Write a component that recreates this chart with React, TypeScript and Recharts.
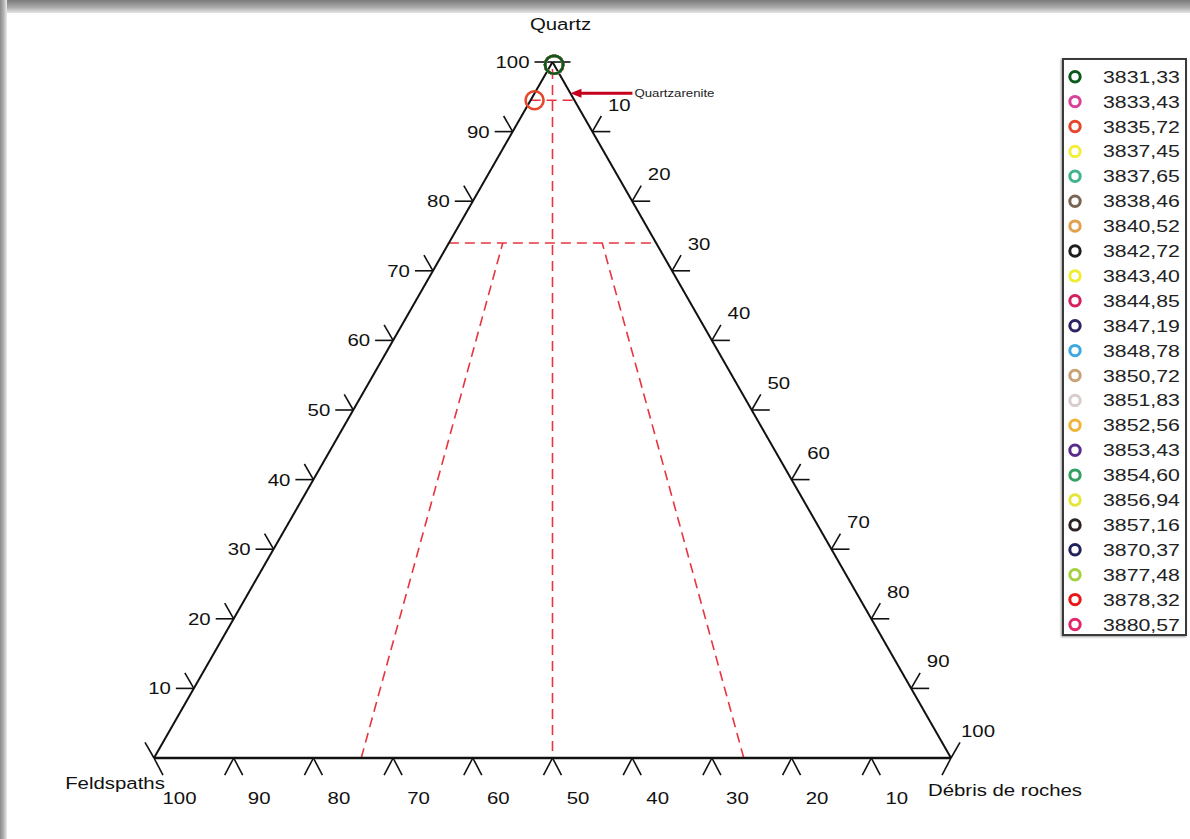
import React from 'react';
import { ScatterChart, Scatter, XAxis, YAxis, ReferenceLine } from 'recharts';

const FONT = '"Liberation Sans", Arial, Helvetica, sans-serif';

// ---------- data ----------
const sampleNames = [
  '3831,33', '3833,43', '3835,72', '3837,45', '3837,65', '3838,46', '3840,52', '3842,72',
  '3843,40', '3844,85', '3847,19', '3848,78', '3850,72', '3851,83', '3852,56', '3853,43',
  '3854,60', '3856,94', '3857,16', '3870,37', '3877,48', '3878,32', '3880,57',
];
const sampleColors = [
  '#0a5a1c', '#d8409a', '#e8452c', '#f2ee3a', '#3fb38e', '#7a6552', '#e2a04a', '#1e1e1e',
  '#f0ec30', '#d42060', '#2c2464', '#3fa8e0', '#c8a276', '#d8cccc', '#f0b438', '#5a2c8c',
  '#33a064', '#e6e63a', '#2e2424', '#22225a', '#a6d040', '#e81818', '#e0286e',
];
// ternary composition (%) : Quartz, Feldspaths, Débris de roches
const quartzValues = [
  99.6, 99.6, 94.5, 99.6, 99.6, 99.6, 99.6, 99.6, 99.6, 99.6, 99.6, 99.6,
  99.6, 99.6, 99.6, 99.6, 99.6, 99.6, 99.6, 99.6, 99.6, 99.6, 99.6,
];
const feldsparValues = [
  0, 0, 5.0, 0, 0, 0, 0, 0, 0, 0, 0, 0,
  0, 0, 0, 0, 0, 0, 0, 0, 0, 0, 0,
];
const debrisValues = [
  0.4, 0.4, 0.5, 0.4, 0.4, 0.4, 0.4, 0.4, 0.4, 0.4, 0.4, 0.4,
  0.4, 0.4, 0.4, 0.4, 0.4, 0.4, 0.4, 0.4, 0.4, 0.4, 0.4,
];

const axisTickValues = [0, 10, 20, 30, 40, 50, 60, 70, 80, 90, 100];
const apexTitle = 'Quartz';
const leftTitle = 'Feldspaths';
const rightTitle = 'Débris de roches';
const quartzareniteLabel = 'Quartzarenite';

// classification boundaries (Q %, and base positions)
const quartzareniteQ = 94.5;
const subQ = 74;
const leftBaseX = 26;
const rightBaseX = 74;
const arrowQ = 95.5;

// ---------- projection ----------
const proj = (q: number, d: number) => ({ x: d + q / 2, y: q });

const leftTicks = axisTickValues.map((v) => ({ ...proj(v, 0), value: v }));
const rightTicks = axisTickValues.map((v) => ({ ...proj(100 - v, v), value: v }));
const bottomTicks = axisTickValues.map((v) => ({ ...proj(0, 100 - v), value: v }));

const titles = [
  { ...proj(100, 0), label: apexTitle, dx: 8, dy: -32, anchor: 'middle' },
  { ...proj(0, 0), label: leftTitle, dx: -39, dy: 31, anchor: 'middle' },
  { ...proj(0, 100), label: rightTitle, dx: 54, dy: 38, anchor: 'middle' },
];

const samples = sampleNames.map((name, i) => ({
  name,
  color: sampleColors[i],
  data: [{ ...proj(quartzValues[i], debrisValues[i]), name }],
}));

const arrowPoint = [{ ...proj(arrowQ, 100 - arrowQ) }];

// ---------- shapes ----------
const SText = ({ x, y, anchor = 'middle', size = 17, sx = 1.2, children, fill = '#111' }: any) => (
  <g transform={`translate(${x},${y}) scale(${sx},1)`}>
    <text x={0} y={0} textAnchor={anchor} fontFamily={FONT} fontSize={size} fill={fill} stroke="none">
      {children}
    </text>
  </g>
);

const TL = 18;
const LeftTickShape = (p: any) => {
  const { cx, cy, payload } = p;
  const v = payload.value;
  return (
    <g>
      {v > 0 && <line x1={cx} y1={cy} x2={cx - TL} y2={cy} stroke="#111" strokeWidth={1.6} />}
      {v < 100 && (
        <line x1={cx} y1={cy} x2={cx - TL * 0.5} y2={cy - TL * 0.866} stroke="#111" strokeWidth={1.6} />
      )}
      {v > 0 && (
        <SText x={cx - 23} y={cy + 6} anchor="end">
          {v}
        </SText>
      )}
    </g>
  );
};

const RightTickShape = (p: any) => {
  const { cx, cy, payload } = p;
  const v = payload.value;
  return (
    <g>
      {v < 100 && <line x1={cx} y1={cy} x2={cx + TL} y2={cy} stroke="#111" strokeWidth={1.6} />}
      {v > 0 && (
        <line x1={cx} y1={cy} x2={cx + TL * 0.5} y2={cy - TL * 0.866} stroke="#111" strokeWidth={1.6} />
      )}
      {v > 0 && (
        <SText x={cx + 27} y={cy - 21} anchor="middle">
          {v}
        </SText>
      )}
    </g>
  );
};

const BottomTickShape = (p: any) => {
  const { cx, cy, payload } = p;
  const v = payload.value;
  return (
    <g>
      {v < 100 && (
        <line x1={cx} y1={cy} x2={cx - TL * 0.5} y2={cy + TL * 0.95} stroke="#111" strokeWidth={1.6} />
      )}
      {v > 0 && (
        <line x1={cx} y1={cy} x2={cx + TL * 0.5} y2={cy + TL * 0.95} stroke="#111" strokeWidth={1.6} />
      )}
      {v > 0 && (
        <SText x={cx + 25.5} y={cy + 46} anchor="middle">
          {v}
        </SText>
      )}
    </g>
  );
};

const TitleShape = (p: any) => {
  const { cx, cy, payload } = p;
  return (
    <SText x={cx + payload.dx} y={cy + payload.dy} anchor={payload.anchor}>
      {payload.label}
    </SText>
  );
};

const makeMarker = (color: string) => (p: any) => {
  const { cx, cy } = p;
  return <circle cx={cx} cy={cy} r={9} fill="none" stroke={color} strokeWidth={2.6} />;
};

const ArrowShape = (p: any) => {
  const { cx, cy } = p;
  return (
    <g>
      <line x1={cx + 8} y1={cy} x2={cx + 62} y2={cy} stroke="#c4001c" strokeWidth={3} />
      <polygon points={`${cx},${cy} ${cx + 11},${cy - 4.5} ${cx + 11},${cy + 4.5}`} fill="#c4001c" />
      <SText x={cx + 64} y={cy + 4} anchor="start" size={11.5} sx={1.15} fill="#222">
        {quartzareniteLabel}
      </SText>
    </g>
  );
};

const DASH = { stroke: '#e8343f', strokeWidth: 1.6, strokeDasharray: '10 6' };
const EDGE = { stroke: '#111', strokeWidth: 2 };

// ---------- legend ----------
const Legend = () => (
  <div
    style={{
      position: 'absolute',
      left: 1062,
      top: 58,
      width: 121,
      height: 574,
      border: '2px solid #3a3a3a',
      background: '#fff',
      boxShadow: '-1px 1px 2px #999',
    }}
  >
    <svg width={121} height={574} style={{ display: 'block' }}>
      {samples.map((s, i) => {
        const cy = 16.7 + i * 24.9;
        return (
          <g key={s.name}>
            <circle cx={11} cy={cy} r={5.2} fill="#fff" stroke={s.color} strokeWidth={3} />
            <g transform={`translate(39,${cy + 6}) scale(1.25,1)`}>
              <text x={0} y={0} fontFamily={FONT} fontSize={17} fill="#222">
                {s.name}
              </text>
            </g>
          </g>
        );
      })}
    </svg>
  </div>
);

export default function App() {
  const drawOrder = samples.map((s, i) => i).reverse();
  return (
    <div
      style={{
        position: 'absolute',
        left: 0,
        top: 0,
        width: 1190,
        height: 839,
        background: '#fff',
        overflow: 'hidden',
      }}
    >
      <div
        style={{
          position: 'absolute',
          left: 0,
          top: 0,
          width: 1190,
          height: 13,
          background: 'linear-gradient(to bottom, #7a7a7a, #a8a8a8 55%, #e6e6e6)',
        }}
      />
      <div
        style={{
          position: 'absolute',
          left: 0,
          top: 0,
          width: 7,
          height: 839,
          background: 'linear-gradient(to right, #8a8a8a, #b0b0b0 50%, #ececec)',
        }}
      />
      <div style={{ position: 'absolute', left: 0, top: 0 }}>
        <ScatterChart width={1190} height={839} margin={{ top: 62, right: 239, bottom: 81, left: 154 }}>
          <XAxis type="number" dataKey="x" domain={[0, 100]} hide />
          <YAxis type="number" dataKey="y" domain={[0, 100]} hide />

          {/* classification dashed lines */}
          <ReferenceLine ifOverflow="visible" segment={[proj(99, 0.5), proj(0, 50)]} {...DASH} />
          <ReferenceLine
            ifOverflow="visible"
            segment={[proj(quartzareniteQ, 0), proj(quartzareniteQ, 100 - quartzareniteQ)]}
            {...DASH}
          />
          <ReferenceLine ifOverflow="visible" segment={[proj(subQ, 0), proj(subQ, 100 - subQ)]} {...DASH} />
          <ReferenceLine
            ifOverflow="visible"
            segment={[proj(0, leftBaseX), { x: leftBaseX + (subQ / 100) * (50 - leftBaseX), y: subQ }]}
            {...DASH}
          />
          <ReferenceLine
            ifOverflow="visible"
            segment={[proj(0, rightBaseX), { x: rightBaseX + (subQ / 100) * (50 - rightBaseX), y: subQ }]}
            {...DASH}
          />

          {/* triangle */}
          <ReferenceLine ifOverflow="visible" segment={[proj(0, 0), proj(100, 0)]} {...EDGE} />
          <ReferenceLine ifOverflow="visible" segment={[proj(100, 0), proj(0, 100)]} {...EDGE} />
          <ReferenceLine ifOverflow="visible" segment={[proj(0, 0), proj(0, 100)]} {...EDGE} strokeWidth={2.4} />

          <Scatter data={leftTicks} shape={LeftTickShape} isAnimationActive={false} />
          <Scatter data={rightTicks} shape={RightTickShape} isAnimationActive={false} />
          <Scatter data={bottomTicks} shape={BottomTickShape} isAnimationActive={false} />
          <Scatter data={titles} shape={TitleShape} isAnimationActive={false} />
          <Scatter data={arrowPoint} shape={ArrowShape} isAnimationActive={false} />

          {drawOrder.map((i) => (
            <Scatter
              key={samples[i].name}
              name={samples[i].name}
              data={samples[i].data}
              shape={makeMarker(samples[i].color)}
              isAnimationActive={false}
            />
          ))}
        </ScatterChart>
      </div>
      <Legend />
    </div>
  );
}
